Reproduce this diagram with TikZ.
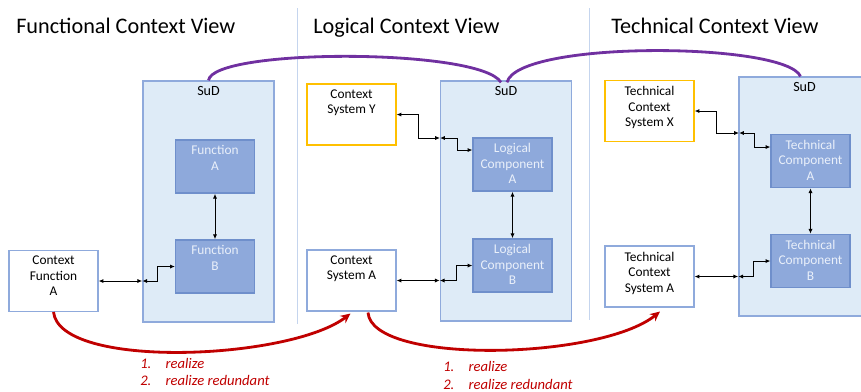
\documentclass[tikz,border=0pt]{standalone}
\usepackage{fontspec}
\setmainfont{Carlito}
\usetikzlibrary{arrows.meta,positioning,calc}
\definecolor{sudfill}{HTML}{DEEBF7}
\definecolor{sudline}{HTML}{8FAADC}
\definecolor{compfill}{HTML}{8EA9DB}
\definecolor{compline}{HTML}{6F8FCB}
\definecolor{comptext}{HTML}{EAF0FA}
\definecolor{ctxyellow}{HTML}{FFC000}
\definecolor{seplight}{HTML}{C5D5EE}
\definecolor{linkpurple}{HTML}{7030A0}
\definecolor{realred}{HTML}{C00000}

\begin{document}
\begin{tikzpicture}[x=0.025cm,y=-0.025cm,
      every node/.style={font=\fontsize{9.5}{11}\selectfont},
      sud/.style={draw=sudline,fill=sudfill,line width=0.9pt,minimum width=3.28cm,minimum height=6cm},
      comp/.style={draw=compline,fill=compfill,line width=0.9pt,minimum width=1.97cm,minimum height=1.33cm},
      ctx/.style={draw=sudline,fill=white,line width=0.9pt,minimum width=2.22cm,minimum height=1.52cm},
      ctxy/.style={ctx,draw=ctxyellow},
      intext/.style={anchor=north,align=center,inner sep=4.3pt},
      compin/.style={intext,text=comptext},
      sudin/.style={intext,font=\fontsize{10}{12}\selectfont},
      title/.style={font=\fontsize{15.8}{19}\selectfont,anchor=base west,inner sep=0pt},
      dbl/.style={{Latex[length=3.5pt,width=3pt]}-{Latex[length=3.5pt,width=3pt]},line width=0.7pt},
      link/.style={linkpurple,line width=2pt},
      realize/.style={realred,line width=2pt,-{Stealth[length=7pt,width=6.5pt]}},
      redlist/.style={anchor=west,align=left,inner sep=0pt,text=realred,font=\fontsize{10.4}{12.4}\selectfont\itshape}]
    \useasboundingbox (0,0) rectangle (861,391);
    % Separators
    \draw[seplight,line width=0.6pt] (297,8) -- (297,324);
    \draw[seplight,line width=0.6pt] (589,8) -- (589,320);
    % Titles
    \node[title] (tfun) at (16,33)  {Functional Context View};
    \node[title] (tlog) at (313,33) {Logical Context View};
    \node[title] (ttec) at (611,33) {Technical Context View};
    % Functional view
    \node[sud,minimum height=6.025cm,label={[sudin,name=sudA]north:SuD}] (sud1) at (208.5,201.5) {};
    \node[comp,label={[compin]north:{Function\\A}}] (fa) at (215,166.5) {};
    \node[comp,label={[compin]north:{Function\\B}}] (fb) at (215,266.5) {};
    \node[ctx,label={[intext]north:{Context\\Function\\A}}] (cfa) at (53.5,281) {};
    % Logical view
    \node[sud,label={[sudin,name=sudB]north:SuD}] (sud2) at (506,201) {};
    \node[comp,label={[compin]north:{Logical\\Component\\A}}] (lca) at (512.5,164.5) {};
    \node[comp,label={[compin]north:{Logical\\Component\\B}}] (lcb) at (512.5,265.5) {};
    \node[ctxy,label={[intext]north:{Context\\System Y}}] (csy) at (351.5,114.5) {};
    \node[ctx,label={[intext]north:{Context\\System A}}] (csa) at (351.5,280.5) {};
    % Technical view
    \node[sud,minimum height=5.975cm,label={[sudin,name=sudC]north:SuD}] (sud3) at (804.5,196.5) {};
    \node[comp,label={[compin]north:{Technical\\Component\\A}}] (tpa) at (810.5,161) {};
    \node[comp,label={[compin]north:{Technical\\Component\\B}}] (tpb) at (810.5,261) {};
    \node[ctxy,label={[intext]north:{Technical\\Context\\System X}}] (tcx) at (649.5,111) {};
    \node[ctx,label={[intext]north:{Technical\\Context\\System A}}] (tca) at (649.5,276.5) {};
    % Ports on the SuD borders
    \coordinate (pf) at (cfa.east -| sud1.west);
    \coordinate (py) at (440,138);
    \coordinate (pa) at (csa.east -| sud2.west);
    \coordinate (px) at (739,133);
    \coordinate (pt) at (tca.east -| sud3.west);
    % Interfaces
    \draw[dbl] (cfa) -- (pf);
    \draw[dbl] (pf) -- ++(15,0) |- (fb);
    \draw[dbl] (csy.east) -- ++(22,0) |- (py);
    \draw[dbl] (py) -- ++(17,0) |- ($(lca.west)+(0,-14.5)$);
    \draw[dbl] (csa) -- (pa);
    \draw[dbl] (pa) -- ++(17,0) |- (lcb);
    \draw[dbl] (tcx.east) -- ++(22,0) |- (px);
    \draw[dbl] (px) -- ++(15,0) |- ($(tpa.west)+(0,-14)$);
    \draw[dbl] (tca) -- (pt);
    \draw[dbl] (pt) -- ++(15,0) |- (tpb);
    \foreach \a/\b in {fa/fb,lca/lcb,tpa/tpb}{\draw[dbl] (\a) -- (\b);}
    % SuD links
    \draw[link] (sud1.north) .. controls (213,48) and (480,48) .. ($(sudB.north)+(-5,2)$);
    \draw[link] ($(sudB.north)+(1,2)$) .. controls (518,40) and (785,42) .. ($(sudC.north)+(-4,0)$);
    % Realize
    \draw[realize] (cfa.south) .. controls (60,370) and (290,360) .. ($(csa.south)+(-1,2)$);
    \draw[realize] ($(csa.south)+(16.5,1)$) .. controls (372,365) and (600,360) .. ($(tca.south)+(10.5,4)$);
    \node[redlist] (rl1) at (140,372) {\makebox[18pt][l]{1.}realize\\\makebox[18pt][l]{2.}realize redundant};
    \node[redlist] (rl2) at (443,375.5) {\makebox[18pt][l]{1.}realize\\\makebox[18pt][l]{2.}realize redundant};
  \end{tikzpicture}
\end{document}
